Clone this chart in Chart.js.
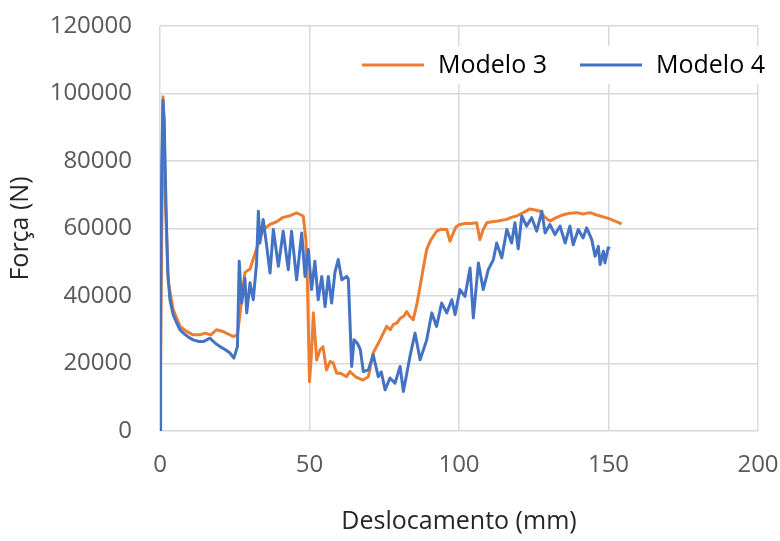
<!DOCTYPE html>
<html lang="pt">
<head>
  <meta charset="UTF-8">
  <title>Força x Deslocamento</title>
  <script src="https://cdn.jsdelivr.net/npm/chart.js"></script>
  <style>
    body {
      margin: 0;
      background: #fff;
    }
    canvas {
      display: block;
    }
  </style>
</head>
<body>

<canvas id="forceChart" width="780" height="541"></canvas>

<script>
  // Modelo 3 (laranja)
  const m3Disp = [0, 0.6, 1.0, 1.4, 1.8, 2.8, 4.4, 6.7, 8.9, 11, 13.4, 15, 17, 18.9, 21, 24.5, 25.9,
    26.8, 28.4, 30.1, 32.3, 34.5, 36.8, 39, 41.2, 43.5, 45.7, 47.9, 48.8, 49.3, 50, 50.6, 51.3,
    52.4, 53.5, 54.5, 55.7, 56.9, 57.9, 59.1, 60.2, 62.4, 63.5, 65.5, 67.9, 69.7, 71.3, 73.6,
    74.7, 75.8, 77, 78, 79.2, 80.5, 81.5, 82.5, 83.5, 84.7, 86, 87, 88, 89.2, 90.5, 92.5, 94,
    95.9, 97, 98, 99, 100.3, 102, 104, 105.9, 107, 108, 109.3, 111, 113, 115.9, 117.5, 119.3,
    121.5, 123.7, 125.5, 127.1, 128.5, 130.4, 132, 134.9, 137, 139.4, 141.5, 143.8, 146, 150, 154.4];
  const m3Force = [0, 60000, 99000, 90000, 68000, 44000, 36000, 31000, 29500, 28500, 28500, 29000, 28500, 30000, 29500, 28000, 28500,
    35000, 47000, 48000, 54000, 59700, 61200, 62000, 63300, 63800, 64600, 63700, 56700, 44000, 14600, 22000, 35000,
    21000, 24000, 25000, 18100, 20600, 20200, 17100, 17200, 16100, 17600, 16000, 15100, 16100, 23100, 27000,
    29000, 31000, 30000, 31500, 32000, 33500, 34000, 35400, 34000, 33000, 38000, 42900, 48000, 53800, 56500, 59200, 59800,
    59700, 56200, 58500, 60500, 61200, 61500, 61500, 61700, 56700, 59500, 61700, 62000, 62200, 62700, 63300, 63700,
    64700, 65800, 65500, 65100, 63500, 62200, 63000, 64100, 64500, 64700, 64300, 64700, 64000, 63000, 61400];

  // Modelo 4 (azul)
  const m4Disp = [0, 0.2, 0.6, 1.0, 1.4, 1.8, 2.2, 2.6, 3.3, 4.4, 5.6, 6.7, 7.8, 9.5, 11.1, 13, 14.5, 16.7, 18.5,
    20.1, 22, 23.4, 24.7, 25.9, 26.5, 27.3, 28.4, 29, 30.1, 31.2, 32.3, 32.9, 33.4, 34.5, 35.7, 36.8,
    37.9, 39.6, 41.2, 42.9, 44, 45.7, 47.4, 48.5, 49.6, 50.7, 51.8, 52.9, 54.1, 55.2, 56.3, 57.4, 58.5,
    59.6, 60.8, 62.4, 63, 64.1, 64.9, 66, 67, 68, 69.7, 71.3, 73, 74, 75.3, 76.9, 78.6, 80.3, 81.4,
    83.6, 85.3, 87, 89.2, 90.9, 92.5, 94.2, 95.9, 97.6, 98.7, 100.3, 102, 103.7, 104.8, 106.5, 108.1,
    109.8, 111.5, 112.6, 114.3, 116, 117.6, 118.7, 119.8, 121, 122.6, 124.3, 126, 127.7, 128.8, 130.4,
    132.1, 133.8, 135.5, 137.1, 138.2, 139.9, 141.5, 142.7, 144.4, 145.5, 146.6, 147.2, 148.3, 148.8, 149.9, 150.5];
  const m4Force = [0, 40000, 80000, 98000, 92000, 75000, 60000, 47000, 39000, 34500, 32000, 30000, 29000, 27800, 27000, 26500, 26500, 27500, 26000,
    25000, 24000, 23100, 21600, 25000, 50300, 37900, 45300, 35000, 43900, 38900, 49800, 65100, 55700, 62700, 54700, 46800,
    59700, 48800, 59200, 47800, 59200, 44800, 58700, 45800, 53800, 41900, 50300, 38900, 45800, 36900, 45800, 37900, 47000,
    50800, 44800, 45800, 45000, 19100, 27000, 26000, 24100, 17600, 18100, 22600, 16100, 17500, 12200, 15700, 14200, 19100, 11700,
    22100, 29000, 21100, 27000, 35000, 31000, 37900, 35000, 38900, 34500, 41900, 39900, 48300, 33500, 49800, 41900,
    47800, 50800, 55700, 51300, 59700, 55700, 61700, 54000, 63700, 60700, 63200, 59200, 65100, 58700, 61200,
    58200, 60700, 55700, 60700, 55200, 59700, 57200, 60200, 56700, 51800, 54700, 49300, 53300, 49800, 54300, 54000];

  const xTicks = [0, 50, 100, 150, 200];
  const yTicks = [0, 20000, 40000, 60000, 80000, 100000, 120000];

  const toPoints = (xs, ys) => xs.map((x, i) => ({ x: x, y: ys[i] }));

  Chart.defaults.font.family = "'Open Sans', sans-serif";

  // legenda dentro da área do gráfico, com fundo branco
  const insideLegend = {
    id: 'insideLegend',
    afterDraw(chart) {
      const c = chart.ctx;
      c.save();
      c.fillStyle = '#fff';
      c.fillRect(352, 46, 423, 38);
      c.font = "25px 'Open Sans', sans-serif";
      c.textBaseline = 'middle';
      let x = 362;
      const y = 65;
      chart.data.datasets.forEach(ds => {
        c.strokeStyle = ds.borderColor;
        c.lineWidth = 3;
        c.beginPath();
        c.moveTo(x, y);
        c.lineTo(x + 62, y);
        c.stroke();
        c.fillStyle = '#000';
        c.fillText(ds.label, x + 76, y + 1);
        x += 76 + c.measureText(ds.label).width + 33;
      });
      c.restore();
    }
  };

  new Chart(document.getElementById("forceChart"), {
    type: "line",
    data: {
      datasets: [{
        label: "Modelo 3",
        data: toPoints(m3Disp, m3Force),
        borderColor: "#ED7D31",
        borderWidth: 3,
        pointRadius: 0,
        tension: 0,
        borderJoinStyle: "round",
        order: 1
      }, {
        label: "Modelo 4",
        data: toPoints(m4Disp, m4Force),
        borderColor: "#4472C4",
        borderWidth: 3,
        pointRadius: 0,
        tension: 0,
        borderJoinStyle: "round",
        order: 0
      }]
    },
    options: {
      responsive: false,
      animation: false,
      layout: { padding: { top: 26, right: 22, left: 0, bottom: 0 } },
      scales: {
        x: {
          type: "linear",
          min: 0,
          max: 200,
          afterBuildTicks: s => { s.ticks = xTicks.map(v => ({ value: v })); },
          afterFit: s => { s.height = 110; s.paddingLeft = 0; s.paddingRight = 0; },
          ticks: { color: "#595959", font: { size: 24 }, padding: 20 },
          grid: { color: "#d9d9d9", lineWidth: 1.5, drawTicks: false },
          border: { display: false },
          title: {
            display: true,
            text: "Deslocamento (mm)",
            color: "#262626",
            font: { size: 25 },
            padding: { top: 0, bottom: 4 }
          }
        },
        y: {
          min: 0,
          max: 120000,
          afterBuildTicks: s => { s.ticks = yTicks.map(v => ({ value: v })); },
          afterFit: s => { s.width = 160; s.paddingTop = 0; s.paddingBottom = 0; },
          ticks: { color: "#595959", font: { size: 24 }, padding: 28, callback: v => String(v) },
          grid: { color: "#d9d9d9", lineWidth: 1.5, drawTicks: false },
          border: { display: false },
          title: {
            display: true,
            text: "Força (N)",
            color: "#262626",
            font: { size: 25 },
            padding: { top: 6, bottom: 0 }
          }
        }
      },
      plugins: {
        legend: { display: false },
        tooltip: { enabled: false }
      }
    },
    plugins: [insideLegend]
  });
</script>
</body>
</html>
